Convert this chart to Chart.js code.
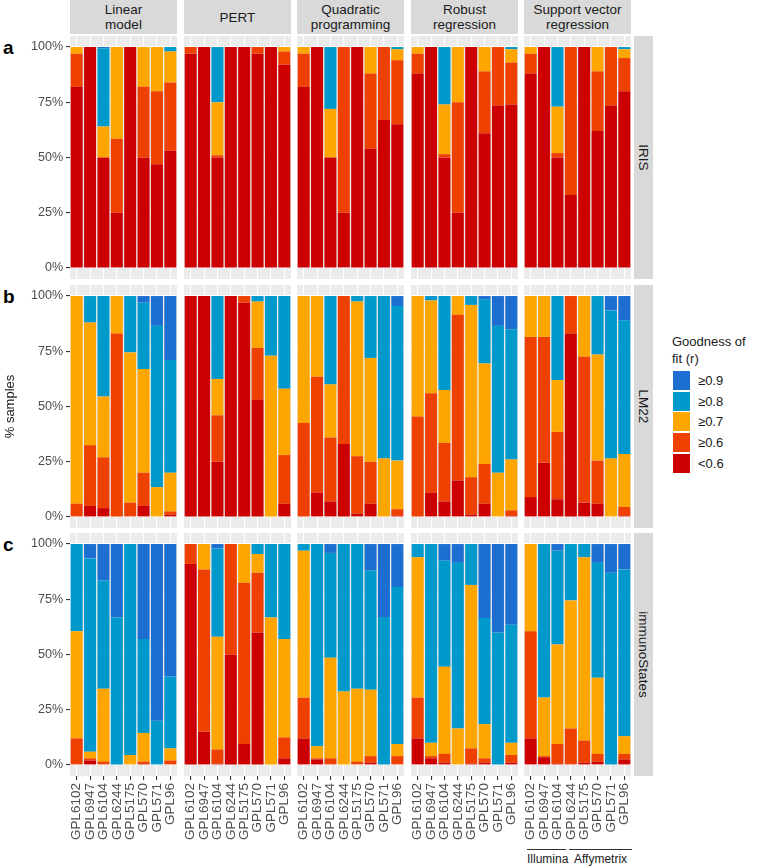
<!DOCTYPE html>
<html lang="en">
<head>
<meta charset="UTF-8">
<title>Goodness of fit</title>
<script src="https://cdnjs.cloudflare.com/ajax/libs/Chart.js/4.4.1/chart.umd.min.js"></script>
<style>
    body { margin: 0; background: #fff; font-family: "Liberation Sans", Arial, sans-serif; }
    #wrap { position: relative; width: 758px; height: 868px; overflow: hidden; }
    .abs { position: absolute; }
    .strip { position: absolute; background: #D9D9D9; color: #1A1A1A; font-size: 13.5px; line-height: 15px;
             display: flex; align-items: center; justify-content: center; text-align: center; white-space: pre; }
    .vstrip span { transform: rotate(90deg); white-space: nowrap; }
    .letter { position: absolute; font-weight: bold; font-size: 19px; line-height: 19px; color: #000; }
    .key { position: absolute; width: 17px; height: 19px; }
    .klab { position: absolute; font-size: 13px; color: #1A1A1A; line-height: 15px; }
</style>
<script>
// x categories (platforms), facets and colour bins
var categories = ['GPL6102', 'GPL6947', 'GPL6104', 'GPL6244', 'GPL5175', 'GPL570', 'GPL571', 'GPL96'];
var methods = ['Linear\nmodel', 'PERT', 'Quadratic\nprogramming', 'Robust\nregression', 'Support vector\nregression'];
var references = ['IRIS', 'LM22', 'immunoStates'];
var bins = ['<0.6', '\u22650.6', '\u22650.7', '\u22650.8', '\u22650.9'];
var binColors = ['#CC0000', '#EE4000', '#FFA500', '#0099CC', '#1C6FD0'];
var yTicks = [0, 25, 50, 75, 100];
var yTickLabels = ['0%', '25%', '50%', '75%', '100%'];

// % samples per bin; 8 platforms per method, methods in order LM, PERT, QP, RR, SVR
var iris_lt06 = [82, 100, 50, 25, 100, 50, 47, 53,
                 97, 100, 50, 100, 100, 97, 100, 92,
                 82, 100, 50, 25, 100, 54, 67, 65,
                 88, 100, 50, 25, 100, 61, 73.5, 74,
                 88, 100, 50, 33, 100, 62, 73.5, 80];
var iris_ge06 = [15, 0, 0, 33.5, 0, 32, 33, 31,
                 3, 0, 1, 0, 0, 3, 0, 6,
                 15, 0, 0, 75, 0, 34, 33, 29,
                 9, 0, 1.5, 50, 0, 28, 26.5, 19,
                 9, 0, 2, 67, 0, 27, 26.5, 15];
var iris_ge07 = [3, 0, 14, 41.5, 0, 18, 20, 14,
                 0, 0, 24, 0, 0, 0, 0, 2,
                 3, 0, 22, 0, 0, 12, 0, 5,
                 3, 0, 22.5, 25, 0, 11, 0, 6,
                 3, 0, 21, 0, 0, 11, 0, 4];
var iris_ge08 = [0, 0, 35.5, 0, 0, 0, 0, 2,
                 0, 0, 25, 0, 0, 0, 0, 0,
                 0, 0, 28, 0, 0, 0, 0, 1,
                 0, 0, 26, 0, 0, 0, 0, 1,
                 0, 0, 27, 0, 0, 0, 0, 1];
var iris_ge09 = [0, 0, 0.5, 0, 0, 0, 0, 0,
                 0, 0, 0, 0, 0, 0, 0, 0,
                 0, 0, 0, 0, 0, 0, 0, 0,
                 0, 0, 0, 0, 0, 0, 0, 0,
                 0, 0, 0, 0, 0, 0, 0, 0];

var lm22_lt06 = [0, 5, 4, 0, 0, 5, 0, 1,
                 100, 100, 25, 100, 97, 53, 0, 6,
                 0, 11, 7, 33, 1.5, 6, 0, 0.5,
                 0, 11, 7, 16.5, 1, 6, 0, 0.5,
                 9, 24.5, 8, 83, 6.5, 6, 0, 0.5];
var lm22_ge06 = [6, 27.5, 23, 83, 6.5, 15, 0, 1.5,
                 0, 0, 21, 0, 3, 23.5, 0, 22,
                 42.5, 52.5, 29, 67, 26, 19, 0, 3,
                 45.5, 45, 26.5, 75, 17, 18, 0, 2.5,
                 72.5, 57, 30.5, 17, 66, 19.5, 0, 4];
var lm22_ge07 = [94, 55.5, 27.5, 17, 68, 47, 13.5, 17.5,
                 0, 0, 16.5, 0, 0, 21, 73, 30,
                 57.5, 36.5, 24, 0, 70, 47, 26.5, 22,
                 54.5, 42, 24, 8.5, 78, 45.5, 20, 23,
                 18.5, 18.5, 23.5, 0, 27.5, 48, 26.5, 24];
var lm22_ge08 = [0, 12, 45.5, 0, 25.5, 30, 73, 51,
                 0, 0, 37.5, 0, 0, 2.5, 27, 42,
                 0, 0, 40, 0, 2.5, 28, 73.5, 70,
                 0, 2, 42.5, 0, 4, 29, 66.5, 59,
                 0, 0, 38, 0, 0, 26.5, 67, 60.5];
var lm22_ge09 = [0, 0, 0, 0, 0, 3, 13.5, 29,
                 0, 0, 0, 0, 0, 0, 0, 0,
                 0, 0, 0, 0, 0, 0, 0, 4.5,
                 0, 0, 0, 0, 0, 1.5, 13.5, 15,
                 0, 0, 0, 0, 0, 0, 6.5, 11];

var imm_lt06 = [0, 2, 0, 0, 0, 0.5, 0, 0,
                91, 15, 0.5, 50, 9.5, 60, 0, 3,
                12, 2.5, 0, 0, 0, 1, 0, 0,
                12, 3, 1, 0, 0.5, 1, 0, 1,
                12, 3.5, 0.5, 0, 1, 1.5, 0, 2.5];
var imm_ge06 = [12, 1, 1.5, 0, 0, 1, 0, 2,
                9, 73.5, 6.5, 50, 73, 27, 0, 9.5,
                18.5, 0.5, 3, 0, 1.5, 3, 0, 4,
                18.5, 1, 4, 0, 7, 2, 0, 3.5,
                48.5, 0.5, 9, 16.5, 10, 3.5, 0, 2.5];
var imm_ge07 = [48.5, 3, 33, 0, 4.5, 13, 0, 5.5,
                0, 11.5, 51, 0, 17.5, 8.5, 66.7, 44.5,
                66.5, 5.5, 45.5, 33.3, 33, 30, 0, 5.5,
                63.5, 6, 39.5, 16.5, 74, 15.5, 0, 5.5,
                39.5, 26.5, 45, 58, 83, 34.5, 0, 8];
var imm_ge08 = [39.5, 87.5, 49, 66.7, 95.5, 42.5, 20, 32.5,
                0, 0, 40, 0, 0, 4.5, 33.3, 43,
                3, 91.5, 47.5, 66.7, 65.5, 54, 67, 71,
                6, 90, 48, 75, 18.5, 48, 60, 53.5,
                0, 69.5, 42.5, 25.5, 6, 52, 87, 75.5];
var imm_ge09 = [0, 6.5, 16.5, 33.3, 0, 43, 80, 60,
                0, 0, 2, 0, 0, 0, 0, 0,
                0, 0, 4, 0, 0, 12, 33, 19.5,
                0, 0, 7.5, 8.5, 0, 33.5, 40, 36.5,
                0, 0, 3, 0, 0, 8.5, 13, 11.5];

var rowData = [
    [iris_lt06, iris_ge06, iris_ge07, iris_ge08, iris_ge09],
    [lm22_lt06, lm22_ge06, lm22_ge07, lm22_ge08, lm22_ge09],
    [imm_lt06, imm_ge06, imm_ge07, imm_ge08, imm_ge09]
];

// layout of the facet grid
var colLeft = [70, 184, 297, 411, 524];
var rowTop = [36, 285, 533];
var panelW = 107, panelH = 243;
var yAxisW = 70, xAxisH = 90;

var panelBg = {
    id: 'panelBg',
    beforeDraw: function (c) {
        var a = c.chartArea;
        c.ctx.save();
        c.ctx.fillStyle = '#EBEBEB';
        c.ctx.fillRect(a.left, a.top, a.right - a.left, a.bottom - a.top);
        c.ctx.restore();
    }
};

function makePanel(wrap, row, col) {
    var first = col === 0, bottom = row === 2;
    var left = first ? colLeft[0] - yAxisW : colLeft[col];
    var w = panelW + (first ? yAxisW : 0);
    var h = panelH + (bottom ? xAxisH : 0);
    var cv = document.createElement('canvas');
    cv.width = w; cv.height = h;
    cv.className = 'abs';
    cv.style.left = left + 'px';
    cv.style.top = rowTop[row] + 'px';
    wrap.appendChild(cv);

    var datasets = [];
    for (var b = 0; b < bins.length; b++) {
        datasets.push({
            label: bins[b],
            data: rowData[row][b].slice(col * 8, col * 8 + 8),
            backgroundColor: binColors[b],
            borderWidth: 0,
            barPercentage: 0.9,
            categoryPercentage: 1.0
        });
    }

    new Chart(cv, {
        type: 'bar',
        data: { labels: categories, datasets: datasets },
        plugins: [panelBg],
        options: {
            responsive: false,
            animation: false,
            layout: { padding: 0 },
            plugins: { legend: { display: false }, tooltip: { enabled: false } },
            scales: {
                x: {
                    stacked: true,
                    offset: true,
                    border: { display: false },
                    grid: { color: '#FFFFFF', lineWidth: 1.1, offset: false, drawTicks: bottom, tickLength: 4, tickColor: '#333333' },
                    ticks: { display: bottom, autoSkip: false, minRotation: 90, maxRotation: 90, padding: 3,
                             color: '#4D4D4D', font: { size: 13.5 } },
                    afterFit: function (s) { s.height = bottom ? xAxisH : 0; s.paddingLeft = 0; s.paddingRight = 0; }
                },
                y: {
                    stacked: true,
                    min: -5,
                    max: 105,
                    afterBuildTicks: function (s) { s.ticks = yTicks.map(function (v) { return { value: v }; }); },
                    border: { display: false },
                    grid: { color: '#FFFFFF', lineWidth: 1.1, drawTicks: first, tickLength: 4, tickColor: '#333333' },
                    ticks: { display: first, padding: 3, color: '#4D4D4D', font: { size: 12.5 },
                             callback: function (v) { return yTickLabels[yTicks.indexOf(v)]; } },
                    title: { display: first && row === 1, text: '% samples', color: '#1A1A1A', font: { size: 13 },
                             padding: { top: 3, bottom: 0 } },
                    afterFit: function (s) { s.width = first ? yAxisW : 0; s.paddingTop = 0; s.paddingBottom = 0; }
                }
            }
        }
    });
}

window.onload = function () {
    var wrap = document.getElementById('wrap');

    // column strips
    for (var c = 0; c < methods.length; c++) {
        var s = document.createElement('div');
        s.className = 'strip';
        s.style.left = colLeft[c] + 'px';
        s.style.top = '0px';
        s.style.width = panelW + 'px';
        s.style.height = '34px';
        s.textContent = methods[c];
        wrap.appendChild(s);
    }
    // row strips and panel letters
    var letters = ['a', 'b', 'c'];
    for (var r = 0; r < references.length; r++) {
        var v = document.createElement('div');
        v.className = 'strip vstrip';
        v.style.left = '634px';
        v.style.top = rowTop[r] + 'px';
        v.style.width = '19px';
        v.style.height = panelH + 'px';
        v.innerHTML = '<span>' + references[r] + '</span>';
        wrap.appendChild(v);

        var l = document.createElement('div');
        l.className = 'letter';
        l.style.left = '3px';
        l.style.top = (rowTop[r] + 2) + 'px';
        l.textContent = letters[r];
        wrap.appendChild(l);
    }

    for (var row = 0; row < 3; row++) {
        for (var col = 0; col < 5; col++) makePanel(wrap, row, col);
    }

    // legend, top bin first
    var lg = document.getElementById('legend');
    for (var i = bins.length - 1, k = 0; i >= 0; i--, k++) {
        var key = document.createElement('div');
        key.className = 'key';
        key.style.left = '0px';
        key.style.top = (38 + k * 20.7) + 'px';
        key.style.background = binColors[i];
        lg.appendChild(key);
        var kl = document.createElement('div');
        kl.className = 'klab';
        kl.style.left = '25px';
        kl.style.top = (40 + k * 20.7) + 'px';
        kl.textContent = bins[i];
        lg.appendChild(kl);
    }
};
</script>
</head>
<body>
<div id="wrap">
    <div id="legend" class="abs" style="left:673px; top:333px; width:85px; height:150px;">
        <div class="klab" style="left:-1px; top:0px; line-height:17px;">Goodness of<br>fit (r)</div>
    </div>
    <div class="abs" style="left:527px; top:849px; width:39px; height:1px; background:#333;"></div>
    <div class="abs" style="left:569px; top:849px; width:63px; height:1px; background:#333;"></div>
    <div class="abs" style="left:527px; top:852px; width:39px; text-align:center; font-size:12px; color:#1A1A1A;">Illumina</div>
    <div class="abs" style="left:569px; top:852px; width:63px; text-align:center; font-size:12px; color:#1A1A1A;">Affymetrix</div>
</div>
</body>
</html>
